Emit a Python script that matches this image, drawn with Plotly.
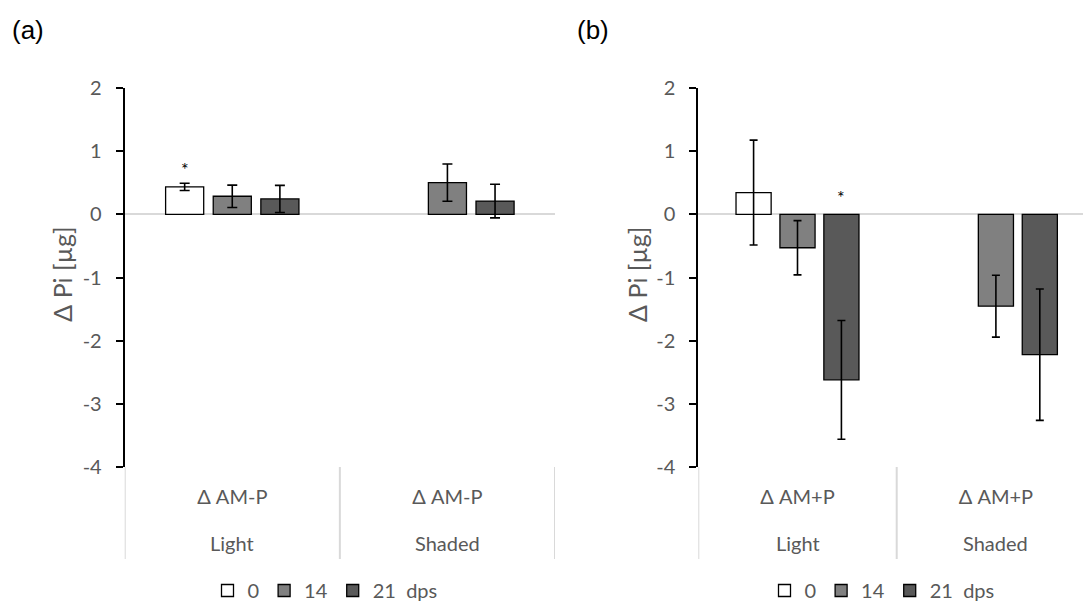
import plotly.graph_objects as go

# ---------------- data ----------------
groups = ["Light", "Shaded"]
inner_label_a = "Δ AM-P"
inner_label_b = "Δ AM+P"
series_names = ["0", "14", "21\u00a0\u00a0dps"]
series_colors = ["#ffffff", "#808080", "#595959"]

# panel (a): AM-P
a_vals = [[0.435, None], [0.286, 0.503], [0.244, 0.210]]
a_errs = [[0.057, 0.0], [0.177, 0.295], [0.215, 0.266]]
# panel (b): AM+P
b_vals = [[0.345, None], [-0.529, -1.454], [-2.620, -2.222]]
b_errs = [[0.830, 0.0], [0.430, 0.490], [0.940, 1.040]]

# significance markers: (panel, series index, group index, y)
stars = [("a", 0, 0, 0.71), ("b", 2, 0, 0.27)]

y_ticks = [2, 1, 0, -1, -2, -3, -4]
y_ticktext = [str(v) for v in y_ticks]

# ---------------- layout constants ----------------
W, H = 1083, 605
BARGAP = 0.336
GROUPGAP = 0.2
FONT = "Lato"
TXT = "#595959"
FS = 20

def px(x):
    return x / W

def py(y):
    return 1 - y / H

fig = go.Figure()

for panel, vals, errs, xa, ya, leg, capw in [
    ("a", a_vals, a_errs, "x", "y", "legend", 5),
    ("b", b_vals, b_errs, "x2", "y2", "legend2", 4),
]:
    for i, name in enumerate(series_names):
        fig.add_trace(go.Bar(
            x=groups, y=vals[i], name=name,
            xaxis=xa, yaxis=ya, legend=leg,
            marker=dict(color=series_colors[i], line=dict(color="black", width=1.3)),
            error_y=dict(type="data", array=errs[i], visible=True,
                         color="black", thickness=1.6, width=capw),
        ))

axis_common_y = dict(
    range=[-4, 2], tickvals=y_ticks, ticktext=y_ticktext, showgrid=False,
    showline=True, linecolor="black", linewidth=2,
    ticks="outside", ticklen=7, tickwidth=2, tickcolor="black",
    zeroline=True, zerolinecolor="#d9d9d9", zerolinewidth=2,
    tickfont=dict(family=FONT, size=FS, color=TXT),
    ticklabelstandoff=10,
    domain=[py(467), py(88)],
)
axis_common_x = dict(
    type="category", categoryarray=groups, showgrid=False, showline=False,
    ticks="", zeroline=False,
    tickfont=dict(family=FONT, size=FS, color=TXT),
    ticklabelstandoff=16,
)

legend_common = dict(orientation="h", xanchor="center", y=py(610), yanchor="bottom",
                     font=dict(family=FONT, size=FS, color=TXT), itemwidth=30,
                     bgcolor="rgba(0,0,0,0)", traceorder="normal")

fig.update_layout(
    width=W, height=H, margin=dict(l=0, r=0, t=0, b=0, autoexpand=False),
    paper_bgcolor="white", plot_bgcolor="white",
    barmode="group", bargap=BARGAP, bargroupgap=GROUPGAP,
    showlegend=True,
    xaxis=dict(**axis_common_x, domain=[px(124.7), px(555)], range=[-0.5, 1.5],
               tickvals=groups, ticktext=[inner_label_a] * 2, anchor="y"),
    yaxis=dict(**axis_common_y, anchor="x"),
    xaxis2=dict(**axis_common_x, domain=[px(698.3), 1.0],
                range=[-0.5, -0.5 + (W - 698.3) / 198.4],
                tickvals=groups, ticktext=[inner_label_b] * 2, anchor="y2"),
    yaxis2=dict(**axis_common_y, anchor="x2"),
    legend=dict(**legend_common, x=px(325)),
    legend2=dict(**legend_common, x=px(882)),
)

shapes = []
# category dividers
for xref, positions in [("x", [-0.5, 0.5, 1.5]), ("x2", [-0.5, 0.5])]:
    for xv in positions:
        shapes.append(dict(type="line", xref=xref, yref="paper", x0=xv, x1=xv,
                           y0=py(467), y1=py(559), line=dict(color="#d9d9d9", width=2),
                           layer="below"))
fig.update_layout(shapes=shapes)

annotations = []
# outer category labels
for xref in ["x", "x2"]:
    for g in groups:
        annotations.append(dict(x=g, y=py(543), xref=xref, yref="paper", text=g,
                                showarrow=False, yanchor="middle",
                                font=dict(family=FONT, size=FS, color=TXT)))
# y axis titles
for xpos in [61.7, 636.9]:
    annotations.append(dict(x=px(xpos), y=py(274), xref="paper", yref="paper",
                            text="Δ Pi [µg]", textangle=-90, showarrow=False,
                            xanchor="center", yanchor="middle",
                            font=dict(family=FONT, size=25, color=TXT)))
# panel labels
for label, xpos in [("(a)", 10), ("(b)", 575)]:
    annotations.append(dict(x=px(xpos), y=py(30), xref="paper", yref="paper",
                            text=label, showarrow=False, xanchor="left", yanchor="middle",
                            font=dict(family="Liberation Sans", size=26, color="black")))
# significance stars
slot = (1 - BARGAP) / len(series_names)
for panel, si, gi, yv in stars:
    xref = "x" if panel == "a" else "x2"
    annotations.append(dict(x=gi + (si - 1) * slot, y=yv, xref=xref,
                            yref="y" if panel == "a" else "y2",
                            text="*", showarrow=False, yanchor="middle",
                            font=dict(family=FONT, size=18, color="black")))
fig.update_layout(annotations=annotations)

fig.write_html("out.html")
